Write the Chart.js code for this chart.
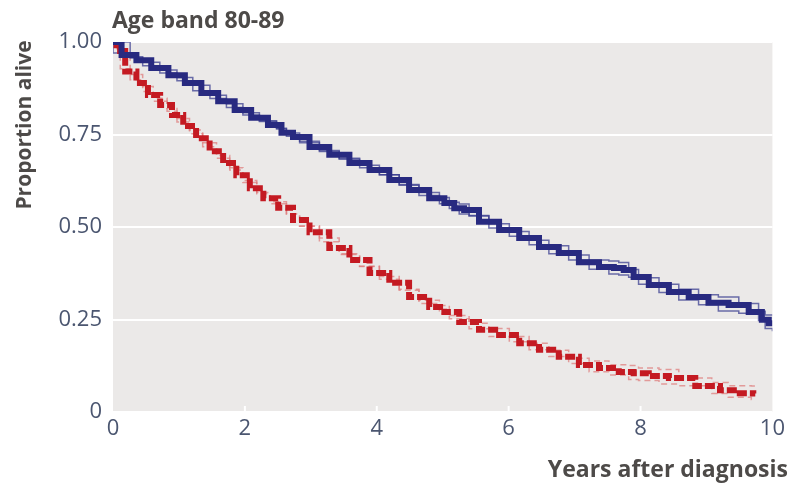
<!DOCTYPE html>
<html lang="en">
  <head>
    <meta charset="UTF-8" />
    <title>Age band 80-89</title>
    <script src="https://cdn.jsdelivr.net/npm/chart.js"></script>
    <style>
      body {
        margin: 0;
        background: #fff;
      }
      .wrap {
        width: 789px;
        height: 483px;
      }
    </style>
  </head>
  <body>
    <div class="wrap"><canvas id="km"></canvas></div>

    <script>
      // years after diagnosis / proportion alive
      const blueTimes = [0, 0.26, 0.45, 0.71, 0.97, 1.21, 1.47, 1.72, 1.97, 2.22, 2.48, 2.63, 2.83, 3.13, 3.43, 3.74, 4.04, 4.34, 4.64, 4.95, 5.1, 5.25, 5.4, 5.7, 6.01, 6.31, 6.61, 6.91, 7.22, 7.52, 7.67, 7.82, 7.97, 8.28, 8.58, 8.88, 9.18, 9.49, 9.79, 9.89, 10.0];
      const blueSurv = [1.0, 0.965, 0.951, 0.93, 0.91, 0.889, 0.862, 0.84, 0.816, 0.795, 0.776, 0.755, 0.743, 0.716, 0.695, 0.673, 0.654, 0.627, 0.6, 0.578, 0.565, 0.551, 0.546, 0.514, 0.492, 0.47, 0.446, 0.43, 0.405, 0.392, 0.389, 0.384, 0.365, 0.343, 0.324, 0.311, 0.295, 0.289, 0.27, 0.249, 0.24];
      const blueUpper = [1.0, 0.97, 0.957, 0.936, 0.916, 0.895, 0.868, 0.847, 0.823, 0.803, 0.785, 0.765, 0.754, 0.728, 0.707, 0.686, 0.667, 0.641, 0.615, 0.593, 0.58, 0.567, 0.562, 0.531, 0.509, 0.488, 0.464, 0.449, 0.424, 0.411, 0.408, 0.404, 0.385, 0.363, 0.345, 0.332, 0.317, 0.311, 0.293, 0.272, 0.262];
      const blueLower = [1.0, 0.96, 0.945, 0.924, 0.904, 0.883, 0.856, 0.833, 0.809, 0.787, 0.767, 0.745, 0.732, 0.704, 0.683, 0.66, 0.641, 0.613, 0.585, 0.563, 0.55, 0.535, 0.53, 0.497, 0.475, 0.452, 0.428, 0.411, 0.386, 0.373, 0.37, 0.364, 0.345, 0.323, 0.303, 0.29, 0.273, 0.267, 0.247, 0.226, 0.218];

      const redTimes = [0, 0.11, 0.26, 0.45, 0.61, 0.82, 0.97, 1.16, 1.36, 1.57, 1.77, 1.97, 2.18, 2.38, 2.63, 2.83, 3.13, 3.43, 3.74, 4.04, 4.34, 4.64, 4.95, 5.1, 5.4, 5.7, 6.01, 6.31, 6.61, 6.91, 7.22, 7.52, 7.82, 7.97, 8.28, 8.58, 9.08, 9.33, 9.68, 9.74];
      const redSurv = [1.0, 0.976, 0.92, 0.889, 0.857, 0.83, 0.803, 0.773, 0.74, 0.705, 0.673, 0.64, 0.605, 0.578, 0.552, 0.519, 0.486, 0.443, 0.411, 0.376, 0.349, 0.311, 0.284, 0.27, 0.243, 0.222, 0.208, 0.186, 0.168, 0.149, 0.127, 0.119, 0.108, 0.105, 0.097, 0.092, 0.07, 0.059, 0.051, 0.05];
      const redUpper = [1.0, 0.982, 0.928, 0.898, 0.866, 0.84, 0.813, 0.784, 0.752, 0.717, 0.686, 0.654, 0.62, 0.593, 0.568, 0.535, 0.502, 0.46, 0.428, 0.393, 0.366, 0.329, 0.302, 0.288, 0.261, 0.24, 0.226, 0.204, 0.186, 0.167, 0.145, 0.138, 0.128, 0.126, 0.119, 0.115, 0.092, 0.08, 0.071, 0.07];
      const redLower = [1.0, 0.97, 0.912, 0.88, 0.848, 0.82, 0.793, 0.762, 0.728, 0.693, 0.66, 0.626, 0.59, 0.563, 0.536, 0.503, 0.47, 0.426, 0.394, 0.359, 0.332, 0.293, 0.266, 0.252, 0.225, 0.204, 0.19, 0.168, 0.15, 0.131, 0.109, 0.1, 0.088, 0.085, 0.076, 0.071, 0.05, 0.04, 0.034, 0.033];

      const xTicks = [0, 2, 4, 6, 8, 10];
      const yTicks = [0, 0.25, 0.5, 0.75, 1];
      const yTickLabels = ["0", "0.25", "0.50", "0.75", "1.00"];

      const titleText = "Age band 80-89";
      const yTitleText = "Proportion alive";
      const xTitleText = "Years after diagnosis";

      const pts = (ts, vs) => ts.map((t, i) => ({ x: t, y: vs[i] }));

      const BLUE = "#282a80";
      const RED = "#c41a22";
      const textGrey = "#4d4a48";
      const tickCol = "#4b5670";

      const decor = {
        id: "decor",
        beforeDraw(chart) {
          const { ctx, chartArea: a } = chart;
          ctx.save();
          ctx.fillStyle = "#ebe9e8";
          ctx.fillRect(a.left, a.top, a.right - a.left, a.bottom - a.top);
          ctx.restore();
        },
        beforeDatasetsDraw(chart) {
          // little white ticks sitting inside the bottom edge
          const { ctx, chartArea: a, scales } = chart;
          ctx.save();
          ctx.strokeStyle = "#fff";
          ctx.lineWidth = 2;
          xTicks.slice(1, -1).forEach((v) => {
            const x = scales.x.getPixelForValue(v);
            ctx.beginPath();
            ctx.moveTo(x, a.bottom);
            ctx.lineTo(x, a.bottom - 6);
            ctx.stroke();
          });
          ctx.restore();
        },
        afterDraw(chart) {
          const { ctx } = chart;
          ctx.save();
          ctx.fillStyle = textGrey;
          ctx.font = "bold 23px 'Open Sans'";
          ctx.textBaseline = "alphabetic";
          ctx.textAlign = "left";
          ctx.fillText(titleText, 112, 28);

          ctx.textAlign = "right";
          ctx.fillText(xTitleText, 788, 477);

          ctx.font = "bold 21px 'Open Sans'";
          ctx.translate(31, 125);
          ctx.rotate(-Math.PI / 2);
          ctx.textAlign = "center";
          ctx.fillText(yTitleText, 0, 0);
          ctx.restore();
        },
      };

      new Chart(document.getElementById("km"), {
        type: "line",
        data: {
          datasets: [
            {
              data: pts(blueTimes, blueSurv),
              borderColor: BLUE,
              borderWidth: 6,
              stepped: "middle",
              order: 0,
            },
            {
              data: pts(redTimes, redSurv),
              borderColor: RED,
              borderWidth: 6,
              borderDash: [10, 3],
              stepped: "middle",
              order: 0,
            },
            {
              data: pts(blueTimes, blueUpper),
              borderColor: "rgba(50, 52, 140, 0.7)",
              borderWidth: 1.5,
              stepped: "after",
              order: 1,
            },
            {
              data: pts(blueTimes, blueLower),
              borderColor: "rgba(50, 52, 140, 0.7)",
              borderWidth: 1.5,
              stepped: "before",
              order: 1,
            },
            {
              data: pts(redTimes, redUpper),
              borderColor: "rgba(222, 120, 120, 0.7)",
              borderWidth: 1.5,
              borderDash: [6, 4],
              stepped: "after",
              order: 1,
            },
            {
              data: pts(redTimes, redLower),
              borderColor: "rgba(222, 120, 120, 0.7)",
              borderWidth: 1.5,
              borderDash: [6, 4],
              stepped: "before",
              order: 1,
            },
          ],
        },
        options: {
          responsive: true,
          maintainAspectRatio: false,
          animation: false,
          layout: { padding: { top: 42, right: 15, left: 0, bottom: 0 } },
          elements: { point: { radius: 0 }, line: { tension: 0, borderCapStyle: "butt" } },
          plugins: { legend: { display: false }, tooltip: { enabled: false } },
          scales: {
            x: {
              type: "linear",
              min: 0,
              max: 10,
              afterFit: (s) => { s.height = 71; },
              afterBuildTicks: (s) => { s.ticks = xTicks.map((v) => ({ value: v })); },
              grid: { display: false, drawTicks: false },
              border: { display: false },
              ticks: {
                color: tickCol,
                font: { family: "'Open Sans'", size: 22 },
                padding: 4,
                maxRotation: 0,
                callback: (v) => String(v),
              },
            },
            y: {
              min: 0,
              max: 1,
              afterFit: (s) => { s.width = 113; },
              afterBuildTicks: (s) => { s.ticks = yTicks.map((v) => ({ value: v })); },
              grid: { color: "#fff", lineWidth: 2, drawTicks: false },
              border: { display: false },
              ticks: {
                color: tickCol,
                font: { family: "'Open Sans'", size: 22 },
                padding: 11,
                callback: (v) => yTickLabels[yTicks.indexOf(v)],
              },
            },
          },
        },
        plugins: [decor],
      });
    </script>
  </body>
</html>
